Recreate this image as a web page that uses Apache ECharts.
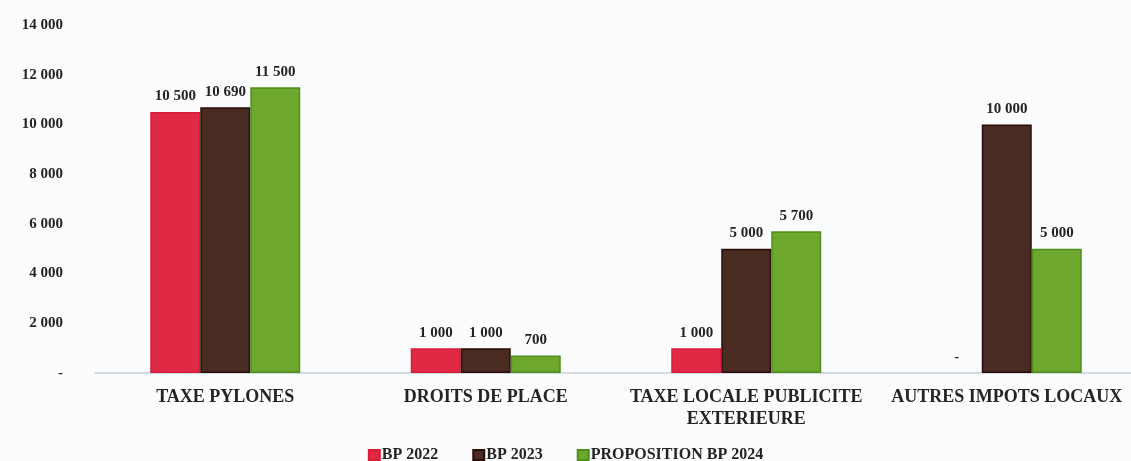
<!DOCTYPE html>
<html>
<head>
<meta charset="utf-8">
<script src="https://cdn.jsdelivr.net/npm/echarts@6/dist/echarts.min.js"></script>
<style>
  html, body { margin: 0; padding: 0; background: #fbfcfe; }
  #chart { width: 1131px; height: 461px; }
</style>
</head>
<body>
<div id="chart"></div>
<script>
const categories = ['TAXE PYLONES', 'DROITS DE PLACE', 'TAXE LOCALE PUBLICITE\nEXTERIEURE', 'AUTRES IMPOTS LOCAUX'];
const seriesNames = ['BP 2022', 'BP 2023', 'PROPOSITION BP 2024'];
const bp2022 = [10500, 1000, 1000, 0];
const bp2023 = [10690, 1000, 5000, 10000];
const bp2024 = [11500, 700, 5700, 5000];
const yTicks = { min: 0, max: 14000, interval: 2000 };

const font = '"Liberation Serif", "DejaVu Serif", serif';
const textColor = '#242424';

// French-style grouping: "10 500"; zero is written as a dash
function fmt(v) {
  if (v === 0) return '-';
  return String(v).replace(/\B(?=(\d{3})+(?!\d))/g, ' ');
}

const fills = ['#e02a45', '#4a2b22', '#6da72e'];
const borders = ['#d81d38', '#2a0c08', '#4f8f1c'];
const values = [bp2022, bp2023, bp2024];

const chart = echarts.init(document.getElementById('chart'), null, { renderer: 'canvas' });
chart.setOption({
  backgroundColor: '#fbfcfe',
  animation: false,
  grid: { left: 95, width: 1042, top: 25, bottom: 88, containLabel: false, outerBoundsMode: 'none' },
  legend: {
    top: 442,
    left: 'center',
    itemWidth: 11,
    itemHeight: 10,
    itemGap: 34,
    icon: 'rect',
    textStyle: { fontFamily: font, fontWeight: 'bold', fontSize: 16, color: textColor, padding: [0, 0, 0, -3] },
    data: seriesNames
  },
  xAxis: {
    type: 'category',
    data: categories,
    axisLine: { lineStyle: { color: '#c9cdd9', width: 1.5 } },
    axisTick: { show: false },
    axisLabel: {
      interval: 0,
      margin: 13,
      fontFamily: font,
      fontWeight: 'bold',
      fontSize: 18,
      color: textColor,
      lineHeight: 22
    }
  },
  yAxis: {
    type: 'value',
    min: yTicks.min,
    max: yTicks.max,
    interval: yTicks.interval,
    splitLine: { show: false },
    axisLine: { show: false },
    axisTick: { show: false },
    axisLabel: {
      margin: 32,
      fontFamily: font,
      fontWeight: 'bold',
      fontSize: 15,
      color: textColor,
      formatter: fmt
    }
  },
  series: seriesNames.map((name, i) => ({
    name: name,
    type: 'bar',
    // a zero bar gets no outline so it stays invisible
    data: values[i].map(v => v === 0 ? { value: v, itemStyle: { borderWidth: 0 } } : v),
    barWidth: 50,
    barGap: '0%',
    itemStyle: { color: fills[i], borderColor: borders[i], borderWidth: 1.5 },
    label: {
      show: true,
      position: 'top',
      distance: 8,
      fontFamily: font,
      fontWeight: 'bold',
      fontSize: 15,
      color: textColor,
      formatter: p => fmt(p.value)
    }
  }))
});
</script>
</body>
</html>
